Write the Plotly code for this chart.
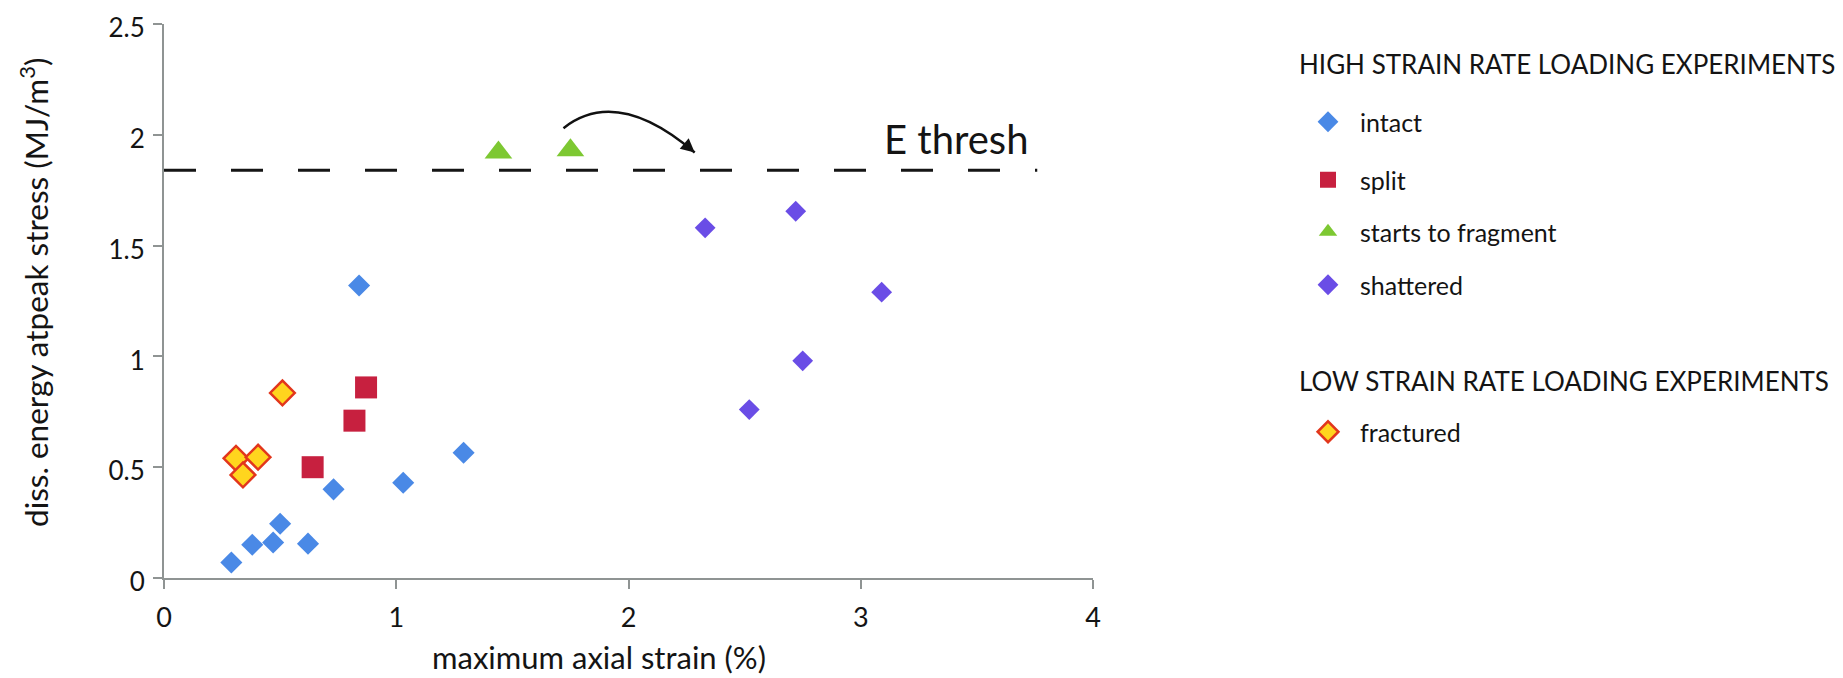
import plotly.graph_objects as go

# ---------------- data ----------------
intact_x = [0.29, 0.38, 0.47, 0.50, 0.62, 0.73, 0.84, 1.03, 1.29]
intact_y = [0.07, 0.15, 0.16, 0.245, 0.155, 0.40, 1.32, 0.43, 0.565]

split_x = [0.64, 0.82, 0.87]
split_y = [0.50, 0.71, 0.86]

fragment_x = [1.44, 1.75]
fragment_y = [1.92, 1.93]

shattered_x = [2.33, 2.72, 3.09, 2.75, 2.52]
shattered_y = [1.58, 1.655, 1.29, 0.98, 0.76]

fractured_x = [0.31, 0.34, 0.405, 0.51]
fractured_y = [0.54, 0.465, 0.545, 0.835]

e_thresh = 1.84
e_thresh_x = [0.0, 3.76]

arrow_start = (1.72, 2.03)
arrow_ctrl = (1.95, 2.22)
arrow_end = (2.285, 1.92)

x_ticks = [0, 1, 2, 3, 4]
y_ticks = [0, 0.5, 1, 1.5, 2, 2.5]
y_tick_text = ["0", "0.5", "1", "1.5", "2", "2.5"]

FONT = "Lato, 'Open Sans', sans-serif"
TXT = "#141414"
AXC = "#8f9493"

# the page body adds an 8px margin, so the figure is 8px smaller than the window
W, H = 1835, 670
ML, MR, MT, MB = 156, 750, 16, 100
pw = W - ML - MR
ph = H - MT - MB


def px_to_paper(px, py):
    return (px - ML) / pw, (H - MB - py) / ph


fig = go.Figure()

# threshold line
fig.add_trace(go.Scatter(
    x=e_thresh_x, y=[e_thresh, e_thresh], mode="lines",
    line=dict(color="#151515", width=3, dash="32px,35px"),
    showlegend=False, hoverinfo="skip"))

series = [
    ("intact", intact_x, intact_y, dict(symbol="diamond", size=17, color="#4a89e6"), "legend"),
    ("split", split_x, split_y, dict(symbol="square", size=22, color="#c7203f"), "legend2"),
    ("starts to fragment", fragment_x, fragment_y, dict(symbol="triangle-up", size=24, color="#7dc832"), "legend3"),
    ("shattered", shattered_x, shattered_y, dict(symbol="diamond", size=16, color="#6a4de6"), "legend4"),
    ("fractured", fractured_x, fractured_y,
     dict(symbol="diamond", size=19, color="#ffd51e", line=dict(color="#e2361c", width=2.5)), "legend5"),
]
for name, xs, ys, mk, lg in series:
    fig.add_trace(go.Scatter(x=xs, y=ys, mode="markers", name=name, marker=mk,
                             legend=lg, showlegend=True))

# curved arrow
sx, sy = arrow_start
cx, cy = arrow_ctrl
ex, ey = arrow_end
fig.add_shape(type="path", xref="x", yref="y",
              path=f"M {sx},{sy} Q {cx},{cy} {ex},{ey}",
              line=dict(color="#111111", width=2.5))
fig.add_annotation(x=ex, y=ey, ax=ex - (ex - cx) * 0.12, ay=ey - (ey - cy) * 0.12,
                   xref="x", yref="y", axref="x", ayref="y", text="",
                   showarrow=True, arrowhead=2, arrowsize=1.1, arrowwidth=2.5,
                   arrowcolor="#111111")

# E thresh label
fig.add_annotation(x=3.413, y=1.98, xref="x", yref="y", text="E thresh",
                   showarrow=False, font=dict(family=FONT, size=40, color=TXT),
                   xanchor="center", yanchor="middle")

# axis titles
xt, yt = px_to_paper(591, 670)
fig.add_annotation(x=xt, y=yt, xref="paper", yref="paper", text="maximum axial strain (%)",
                   showarrow=False, font=dict(family=FONT, size=31, color=TXT),
                   xanchor="center", yanchor="bottom")
xt, yt = px_to_paper(26, 284)
fig.add_annotation(x=xt, y=yt, xref="paper", yref="paper",
                   text="diss. energy atpeak stress (MJ/m<sup>3</sup>)", textangle=-90,
                   showarrow=False, font=dict(family=FONT, size=31.5, color=TXT),
                   xanchor="center", yanchor="middle")

# legend group headers
for label, py in [("HIGH STRAIN RATE LOADING EXPERIMENTS", 56),
                  ("LOW STRAIN RATE LOADING EXPERIMENTS", 373)]:
    hx, hy = px_to_paper(1289, py)
    fig.add_annotation(x=hx, y=hy, xref="paper", yref="paper", text=label,
                       showarrow=False, font=dict(family=FONT, size=26, color=TXT),
                       xanchor="left", yanchor="middle")

legend_rows = {"legend": 114, "legend2": 172, "legend3": 224, "legend4": 277, "legend5": 424}
legend_common = dict(xref="container", yref="container", xanchor="left", yanchor="middle",
                     bgcolor="rgba(0,0,0,0)", borderwidth=0, itemwidth=54,
                     font=dict(family=FONT, size=25, color=TXT))
layout_legends = {}
for key, py in legend_rows.items():
    layout_legends[key] = dict(x=1288 / W, y=1 - py / H, **legend_common)

fig.update_layout(
    width=W, height=H,
    margin=dict(l=ML, r=MR, t=MT, b=MB, autoexpand=False),
    paper_bgcolor="white", plot_bgcolor="white",
    font=dict(family=FONT, color=TXT),
    xaxis=dict(range=[0, 4], tickvals=x_ticks, showgrid=False, zeroline=False,
               showline=True, linecolor=AXC, linewidth=2, ticks="outside",
               ticklen=9, tickwidth=1.5, tickcolor=AXC, ticklabelstandoff=6,
               ticklabeloverflow="allow", automargin=False,
               tickfont=dict(family=FONT, size=27, color=TXT)),
    yaxis=dict(range=[0, 2.5], tickvals=y_ticks, ticktext=y_tick_text, showgrid=False,
               zeroline=False, showline=True, linecolor=AXC, linewidth=2, ticks="outside",
               ticklen=9, tickwidth=1.5, tickcolor=AXC, ticklabelstandoff=3,
               ticklabelshift=4, ticklabeloverflow="allow", automargin=False,
               tickfont=dict(family=FONT, size=26, color=TXT)),
    **layout_legends,
)

fig.write_html("out.html")
